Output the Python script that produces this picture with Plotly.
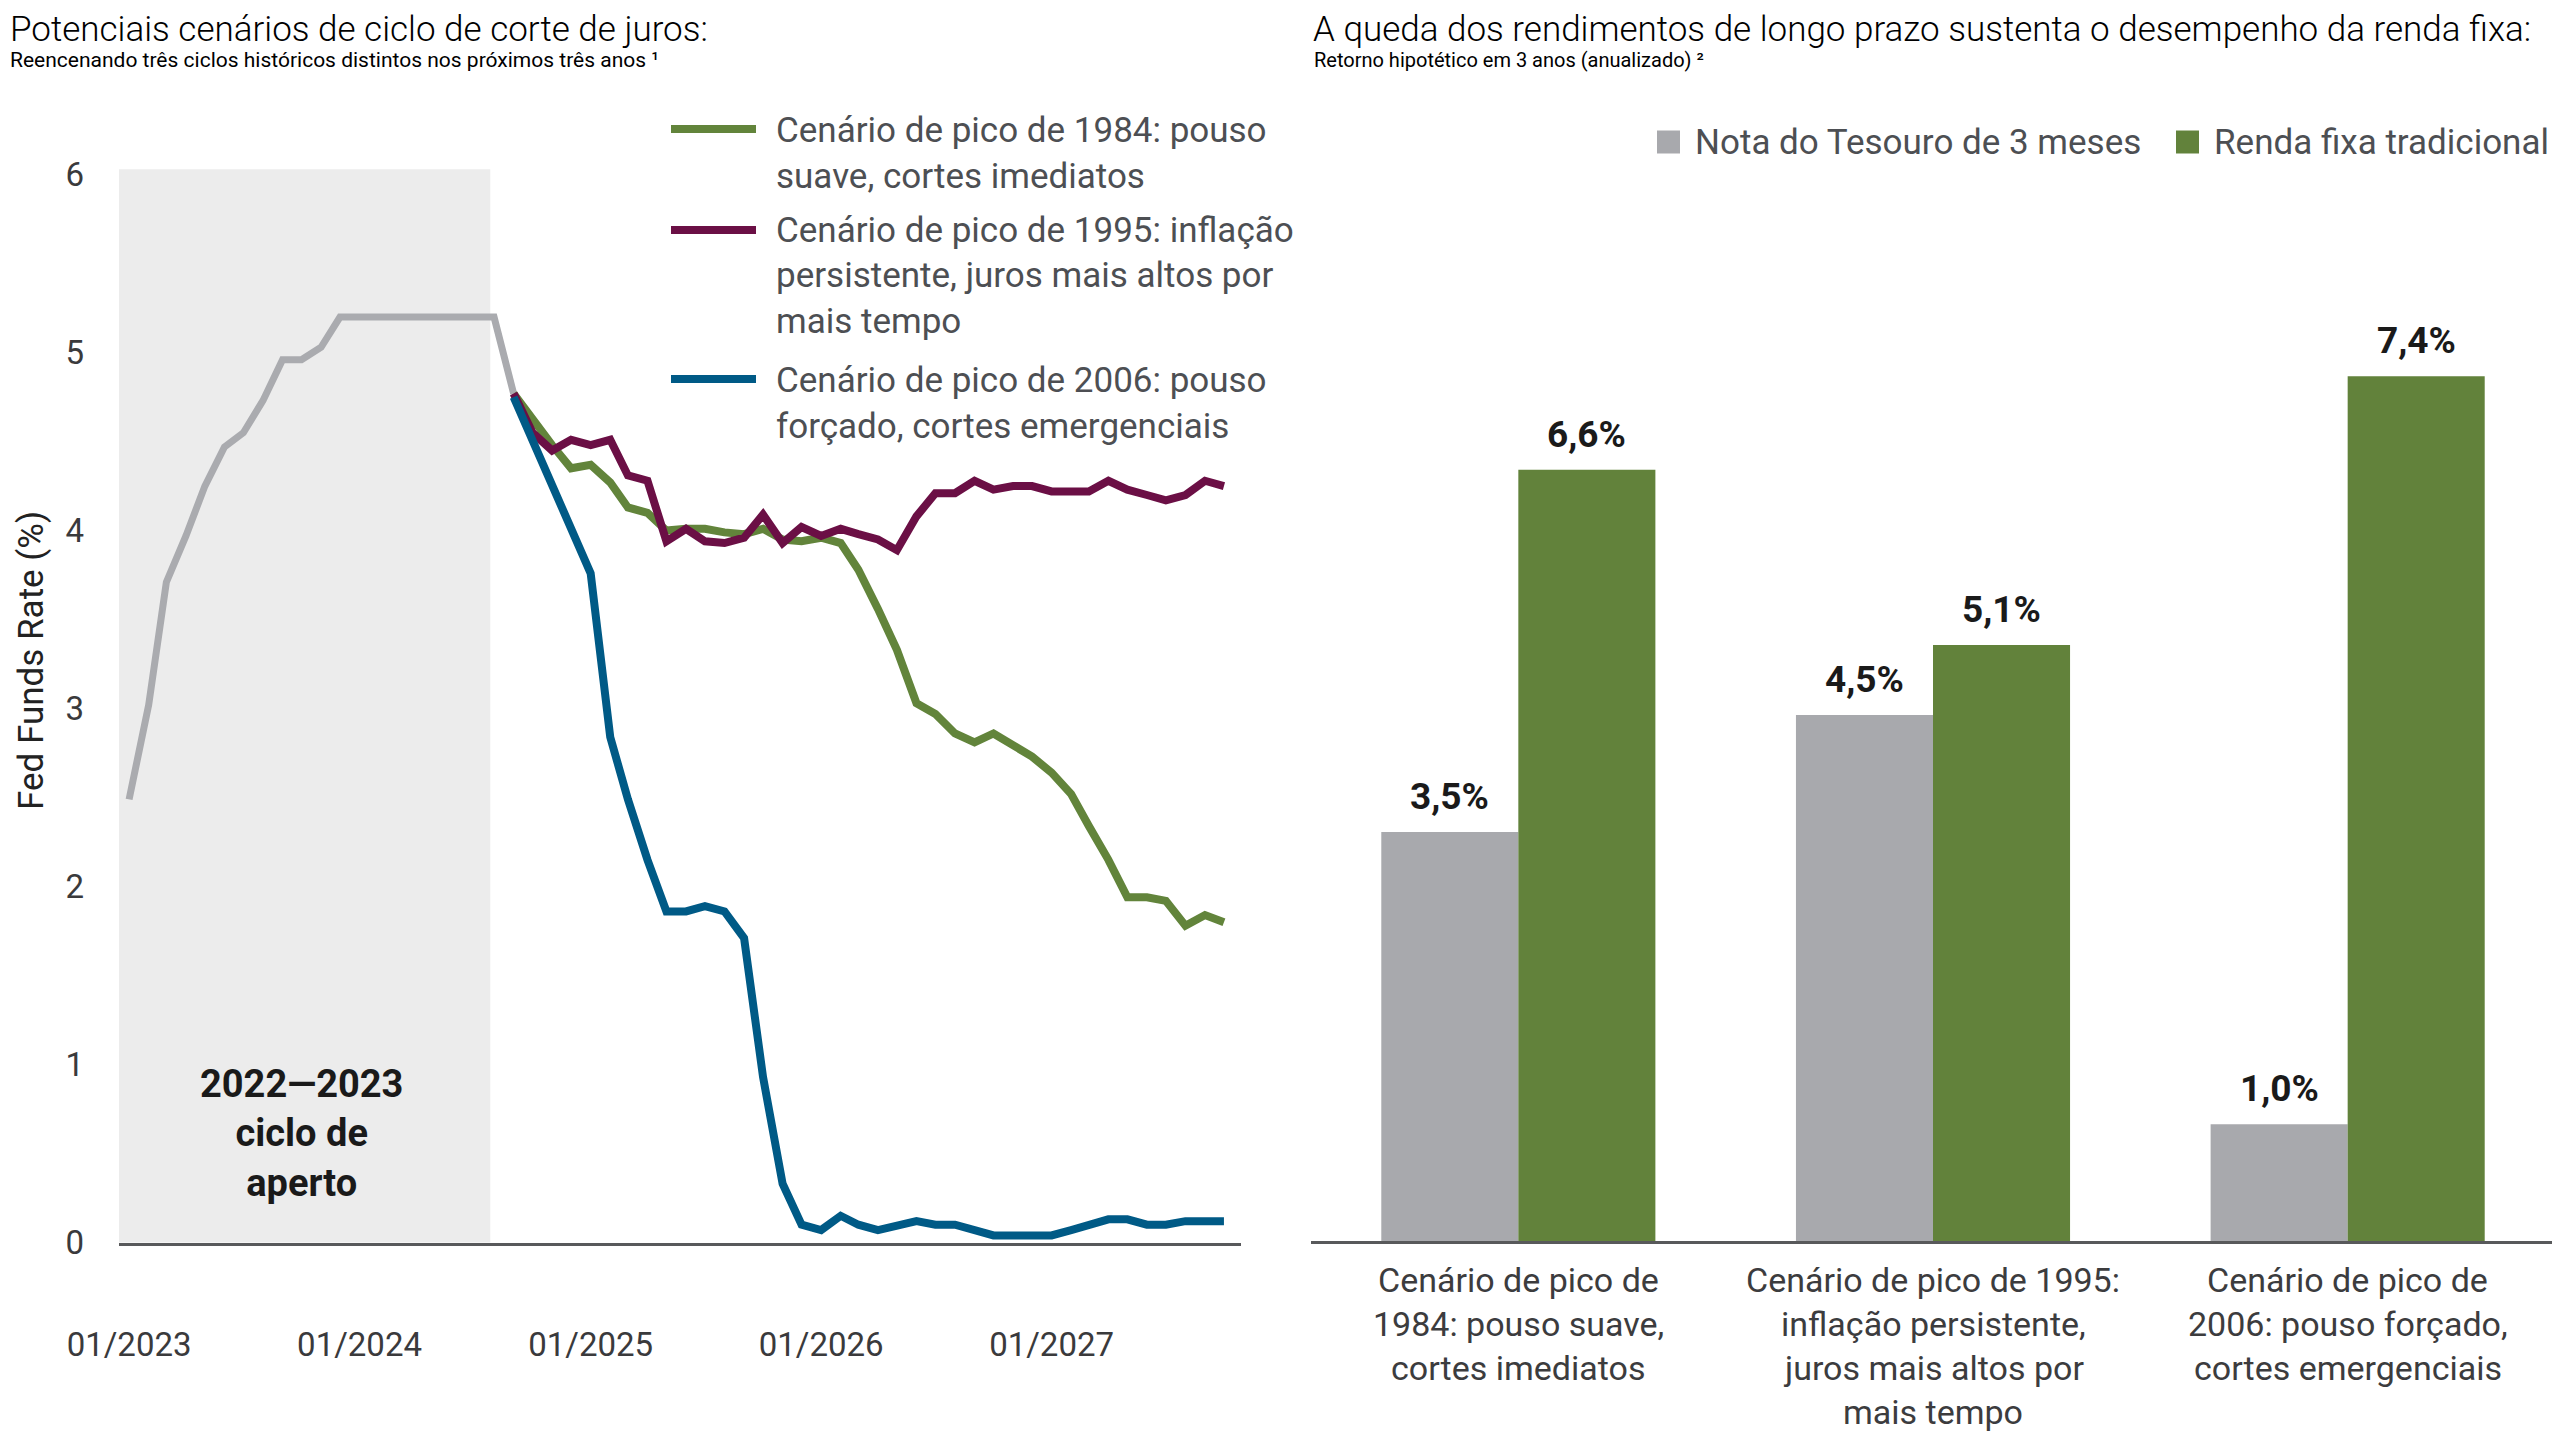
import pandas as pd
import plotly.graph_objects as go

W, H = 2560, 1440
OFF = 8  # page body margin compensation
FONT = "Roboto, Liberation Sans, sans-serif"

# ---------------- data: left chart ----------------
hist_dates = pd.date_range("2023-01-01", periods=21, freq="MS")
hist_rate = [2.49, 3.02, 3.71, 3.97, 4.25, 4.47, 4.55, 4.73, 4.96, 4.96, 5.03,
             5.20, 5.20, 5.20, 5.20, 5.20, 5.20, 5.20, 5.20, 5.20, 4.77]

scen_dates = pd.date_range("2024-09-01", periods=38, freq="MS")
scen_1984 = [4.77, 4.62, 4.48, 4.35, 4.37, 4.27, 4.13, 4.10, 4.00, 4.01,
             4.01, 3.99, 3.98, 4.01, 3.95, 3.94, 3.96, 3.93, 3.78, 3.56,
             3.33, 3.03, 2.97, 2.86, 2.81, 2.86, 2.80, 2.73, 2.64, 2.52,
             2.34, 2.15, 1.94, 1.94, 1.92, 1.78, 1.84, 1.80]
scen_1995 = [4.77, 4.55, 4.45, 4.51, 4.48, 4.51, 4.31, 4.28, 3.94, 4.01,
             3.94, 3.93, 3.96, 4.09, 3.93, 4.02, 3.97, 4.01, 3.98, 3.95,
             3.89, 4.08, 4.21, 4.21, 4.28, 4.23, 4.25, 4.25, 4.22, 4.22,
             4.22, 4.28, 4.23, 4.20, 4.17, 4.20, 4.28, 4.25]
scen_2006 = [4.75, 4.50, 4.25, 4.02, 3.76, 2.84, 2.49, 2.15, 1.86, 1.86,
             1.89, 1.86, 1.71, 0.93, 0.33, 0.10, 0.07, 0.15, 0.10, 0.07,
             0.10, 0.12, 0.10, 0.10, 0.07, 0.04, 0.04, 0.04, 0.04, 0.07,
             0.10, 0.13, 0.13, 0.10, 0.10, 0.12, 0.12, 0.12]

scen_names = ["Cenário de pico de 1984: pouso suave, cortes imediatos",
              "Cenário de pico de 1995: inflação persistente, juros mais altos por mais tempo",
              "Cenário de pico de 2006: pouso forçado, cortes emergenciais"]
legend_lines = [["Cenário de pico de 1984: pouso", "suave, cortes imediatos"],
                ["Cenário de pico de 1995: inflação", "persistente, juros mais altos por", "mais tempo"],
                ["Cenário de pico de 2006: pouso", "forçado, cortes emergenciais"]]

x_tick_vals = ["2023-01-01", "2024-01-01", "2025-01-01", "2026-01-01", "2027-01-01"]
x_tick_text = ["01/2023", "01/2024", "01/2025", "01/2026", "01/2027"]
y_tick_vals = [0, 1, 2, 3, 4, 5, 6]

# ---------------- data: right chart ----------------
bar_categories = ["Cenário de pico de 1984", "Cenário de pico de 1995", "Cenário de pico de 2006"]
bar_category_lines = [["Cenário de pico de", "1984: pouso suave,", "cortes imediatos"],
                      ["Cenário de pico de 1995:", "inflação persistente,", "juros mais altos por", "mais tempo"],
                      ["Cenário de pico de", "2006: pouso forçado,", "cortes emergenciais"]]
tbill_returns = [3.5, 4.5, 1.0]
bond_returns = [6.6, 5.1, 7.4]
bar_series_names = ["Nota do Tesouro de 3 meses", "Renda fixa tradicional"]

# ---------------- styles ----------------
C_GRAY_LINE = "#aaabaf"
C_SHADE = "#ececec"
C_GREEN = "#62843b"
C_PURPLE = "#6b0f45"
C_BLUE = "#005a86"
C_BAR_GRAY = "#a8a9ad"
C_BAR_GREEN = "#62823b"
C_AXIS = "#58595b"
C_TXT = "#4d4f53"
scen_colors = [C_GREEN, C_PURPLE, C_BLUE]
BARGAP = 0.339
X2_DOMAIN_PX = (1311, 2555)


def px(x):
    return (x - OFF) / W


def py(y):
    return 1 - (y - OFF) / H


fig = go.Figure()

fig.add_trace(go.Scatter(x=hist_dates, y=hist_rate, mode="lines",
                         line=dict(color=C_GRAY_LINE, width=7), showlegend=False,
                         xaxis="x", yaxis="y"))
for vals, name, col in zip([scen_1984, scen_1995, scen_2006], scen_names, scen_colors):
    fig.add_trace(go.Scatter(x=scen_dates, y=vals, mode="lines", name=name,
                             line=dict(color=col, width=8), showlegend=False,
                             xaxis="x", yaxis="y"))

for vals, name, col in zip([tbill_returns, bond_returns], bar_series_names, [C_BAR_GRAY, C_BAR_GREEN]):
    fig.add_trace(go.Bar(x=bar_categories, y=vals, name=name,
                         marker=dict(color=col, line=dict(width=0)),
                         showlegend=False, xaxis="x2", yaxis="y2"))

shapes = [
    dict(type="rect", xref="x", yref="y domain", x0="2022-12-10", x1="2024-07-26",
         y0=0, y1=1, fillcolor=C_SHADE, line=dict(width=0), layer="below"),
]
annotations = []

# bar value labels (placed above each bar of the group)
cat_w = (X2_DOMAIN_PX[1] - X2_DOMAIN_PX[0]) / len(bar_categories)
half_bar = cat_w * (1 - BARGAP) / 4
for side, vals in zip([-1, 1], [tbill_returns, bond_returns]):
    for cat, v in zip(bar_categories, vals):
        annotations.append(dict(text="<b>%s%%</b>" % ("%.1f" % v).replace(".", ","),
                                xref="x2", yref="y2", x=cat, y=v, xshift=side * half_bar,
                                yshift=12, xanchor="center", yanchor="bottom", showarrow=False,
                                font=dict(family=FONT, size=37, color="#1a1a1a")))

# left legend
leg_line_y = [129, 230, 379]
leg_text_y = [[130.6, 176.3], [230.2, 275.9, 321.6], [380.4, 426.1]]
for col, ly, lines, tys in zip(scen_colors, leg_line_y, legend_lines, leg_text_y):
    shapes.append(dict(type="line", xref="paper", yref="paper", x0=px(671), x1=px(756),
                       y0=py(ly), y1=py(ly), line=dict(color=col, width=8)))
    for t, ty in zip(lines, tys):
        annotations.append(dict(text=t, xref="paper", yref="paper", x=px(774), y=py(ty),
                                xanchor="left", yanchor="middle", showarrow=False,
                                font=dict(family=FONT, size=35, color=C_TXT)))

# shaded region label
annotations.append(dict(text="<b>2022—2023<br>ciclo de<br>aperto</b>", xref="x", yref="y",
                        x="2023-10-01", y=0.615, xanchor="center", yanchor="middle",
                        showarrow=False, align="center",
                        font=dict(family=FONT, size=38, color="#1a1a1a")))

# y-axis title
annotations.append(dict(text="Fed Funds Rate (%)", xref="paper", yref="paper", x=px(31), y=py(661),
                        xanchor="center", yanchor="middle", textangle=-90, showarrow=False,
                        font=dict(family=FONT, size=35, color="#222222")))

# titles
annotations += [
    dict(text="Potenciais cenários de ciclo de corte de juros:", xref="paper", yref="paper",
         x=px(8), y=py(30), xanchor="left", yanchor="middle", showarrow=False,
         font=dict(family=FONT, size=35, color="#000000", weight=300)),
    dict(text="Reencenando três ciclos históricos distintos nos próximos três anos ¹", xref="paper",
         yref="paper", x=px(8), y=py(60), xanchor="left", yanchor="middle", showarrow=False,
         font=dict(family=FONT, size=21, color="#000000")),
    dict(text="A queda dos rendimentos de longo prazo sustenta o desempenho da renda fixa:",
         xref="paper", yref="paper", x=px(1311), y=py(30), xanchor="left", yanchor="middle",
         showarrow=False, font=dict(family=FONT, size=35, color="#000000", weight=300)),
    dict(text="Retorno hipotético em 3 anos (anualizado) ²", xref="paper", yref="paper",
         x=px(1312), y=py(60), xanchor="left", yanchor="middle", showarrow=False,
         font=dict(family=FONT, size=20, color="#000000")),
]

# bar legend
for (x0, tx), col, name in zip([(1657, 1693), (2176, 2212)], [C_BAR_GRAY, C_BAR_GREEN], bar_series_names):
    shapes.append(dict(type="rect", xref="paper", yref="paper", x0=px(x0), x1=px(x0 + 23),
                       y0=py(153.5), y1=py(130.5), fillcolor=col, line=dict(width=0)))
    annotations.append(dict(text=name, xref="paper", yref="paper", x=px(tx), y=py(142),
                            xanchor="left", yanchor="middle", showarrow=False,
                            font=dict(family=FONT, size=35, color=C_TXT)))

# bar category labels
cat_line_y = [1280, 1324, 1368, 1412]
for cat, lines in zip(bar_categories, bar_category_lines):
    for t, ty in zip(lines, cat_line_y):
        annotations.append(dict(text=t, xref="x2", yref="paper", x=cat, y=py(ty),
                                xanchor="center", yanchor="middle", showarrow=False,
                                font=dict(family=FONT, size=34, color="#3c3c3e")))

fig.update_layout(
    width=W, height=H,
    margin=dict(l=0, r=0, t=0, b=0, pad=0, autoexpand=False),
    paper_bgcolor="white", plot_bgcolor="white",
    separators=",.",
    font=dict(family=FONT, color="#333333"),
    hovermode=False, showlegend=False,
    barmode="group", bargap=BARGAP, bargroupgap=0,
    xaxis=dict(domain=[px(119), px(1241)], range=["2022-12-16", "2027-10-28"], type="date",
               tickvals=x_tick_vals, ticktext=x_tick_text, ticks="", showgrid=False,
               zeroline=False, showline=True, linecolor=C_AXIS, linewidth=2.5, automargin=False,
               tickfont=dict(family=FONT, size=33, color="#3a3a3c"), ticklabelstandoff=71),
    yaxis=dict(domain=[py(1242.5), py(169.3)], range=[0, 6.03], tickvals=y_tick_vals,
               ticks="", showgrid=False, zeroline=False, showline=False, automargin=False,
               tickfont=dict(family=FONT, size=33, color="#3a3a3c"), ticklabelstandoff=34),
    xaxis2=dict(domain=[px(X2_DOMAIN_PX[0]), px(X2_DOMAIN_PX[1])], type="category",
                showticklabels=False, ticks="", showgrid=False, zeroline=False, showline=True,
                linecolor=C_AXIS, linewidth=2.5, anchor="y2", automargin=False),
    yaxis2=dict(domain=[py(1241), py(306)], range=[0, 8], visible=False, anchor="x2",
                automargin=False),
    shapes=shapes,
    annotations=annotations,
)

fig.write_html("out.html")
